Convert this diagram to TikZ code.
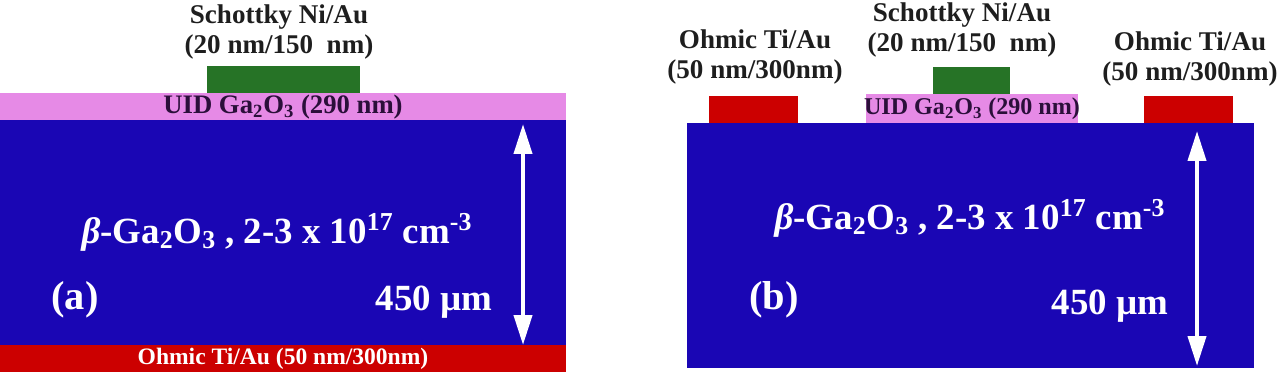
\documentclass[tikz,border=0pt]{standalone}
\usepackage{fontspec}
\setmainfont{Liberation Serif}
\usepackage{tikz}
\usetikzlibrary{arrows.meta}
\definecolor{sblue}{HTML}{1A06B4}
\definecolor{spink}{HTML}{E68AE6}
\definecolor{sred}{HTML}{CC0000}
\definecolor{sgreen}{HTML}{267326}
\definecolor{dtext}{HTML}{1E1E1E}
\definecolor{dpurple}{HTML}{2B0F3A}
\tikzset{
  lbl/.style={font=\bfseries\fontsize{15.4}{17.2}\selectfont,text=dtext,align=center,inner sep=0pt},
  uid/.style={font=\bfseries\fontsize{15.2}{17}\selectfont,text=dpurple,inner sep=0pt},
  big/.style={font=\bfseries\fontsize{21}{24}\selectfont,text=white,inner sep=0pt},
  tag/.style={font=\bfseries\fontsize{23}{26}\selectfont,text=white,inner sep=0pt},
  thk/.style={{Triangle[length=0.6cm,width=0.36cm]}-{Triangle[length=0.6cm,width=0.36cm]},white,line width=0.08cm},
}
\begin{document}
\begin{tikzpicture}[x=0.02cm,y=-0.02cm]
\useasboundingbox (0,0) rectangle (1280,379);
% (a) vertical device
\fill[spink] (0,93) rectangle (566,120);
\fill[sblue] (0,120) rectangle (566,345);
\fill[sred] (0,345) rectangle (566,372);
\fill[sgreen] (207,66) rectangle (360,93);
\node[lbl] (schA) at (279,32) {Schottky Ni/Au\\(20 nm/150~~nm)};
\node[uid] (uidA) at (283,107) {UID Ga\textsubscript{2}O\textsubscript{3} (290 nm)};
\node[big] (bulkA) at (277,232) {\textit{β}-Ga\textsubscript{2}O\textsubscript{3} , 2-3 x 10\textsuperscript{17} cm\textsuperscript{-3}};
\node[tag] (tagA) at (75,300) {(a)};
\node[big] (thA) at (434,302) {450 µm};
\node[font=\bfseries\fontsize{13.4}{15}\selectfont,text=white,inner sep=0pt] (ohmA) at (283,359) {Ohmic Ti/Au (50 nm/300nm)};
\coordinate (topA) at (523,124);
\coordinate (botA) at (523,345);
\draw[thk] (topA) -- (botA);
% (b) lateral device
\fill[sblue] (687,123) rectangle (1254,368);
\fill[sred] (709,96) rectangle (798,123);
\fill[sred] (1144,96) rectangle (1233,123);
\fill[spink] (866,94) rectangle (1078,123);
\fill[sgreen] (933,67) rectangle (1010,94);
\node[lbl] (ohmBl) at (755,57) {Ohmic Ti/Au\\(50 nm/300nm)};
\node[lbl] (schB) at (962,30) {Schottky Ni/Au\\(20 nm/150~~nm)};
\node[lbl] (ohmBr) at (1190,59) {Ohmic Ti/Au\\(50 nm/300nm)};
\node[uid,font=\bfseries\fontsize{13.7}{15}\selectfont] (uidB) at (972,109) {UID Ga\textsubscript{2}O\textsubscript{3} (290 nm)};
\node[big] (bulkB) at (970,218) {\textit{β}-Ga\textsubscript{2}O\textsubscript{3} , 2-3 x 10\textsuperscript{17} cm\textsuperscript{-3}};
\node[tag] (tagB) at (774,300) {(b)};
\node[big] (thB) at (1110,306) {450 µm};
\coordinate (topB) at (1197,131);
\coordinate (botB) at (1197,366);
\draw[thk] (topB) -- (botB);
\end{tikzpicture}
\end{document}
